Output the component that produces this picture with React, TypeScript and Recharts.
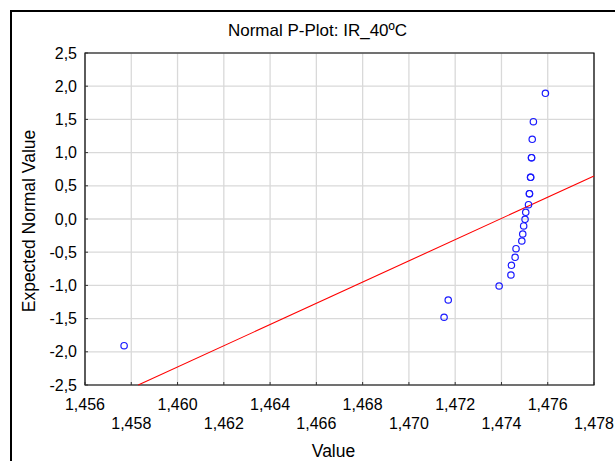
import { ScatterChart, Scatter, XAxis, YAxis, CartesianGrid, ReferenceArea } from 'recharts';

// observed values (x) and their expected normal scores (y)
const valueX = [
  1.45769, 1.47152, 1.4717, 1.4739, 1.47441, 1.47443, 1.47459, 1.47463, 1.47488, 1.47492, 1.47496, 1.47502,
  1.47505, 1.47517, 1.47521, 1.47521, 1.47526, 1.47526, 1.4753, 1.4753, 1.47533, 1.47538, 1.4759,
];
const expectedY = [
  -1.908, -1.48, -1.22, -1.009, -0.843, -0.697, -0.577, -0.447, -0.331, -0.226, -0.105, -0.005,
  0.101, 0.215, 0.381, 0.381, 0.628, 0.628, 0.923, 0.923, 1.2, 1.465, 1.893,
];

// fitted normal line end points
const fitX = [1.4583, 1.478];
const fitY = [-2.5, 0.648];

const xTicks = [1.456, 1.458, 1.46, 1.462, 1.464, 1.466, 1.468, 1.47, 1.472, 1.474, 1.476, 1.478];
const yTicks = [-2.5, -2, -1.5, -1, -0.5, 0, 0.5, 1, 1.5, 2, 2.5];

const points = valueX.map((v, i) => ({ x: v, y: expectedY[i] }));
const fitLine = fitX.map((v, i) => ({ x: v, y: fitY[i] }));

const FONT = '"Liberation Sans", Arial, sans-serif';
const comma = (n: number, d: number) => n.toFixed(d).replace('.', ',');

const XTick = (props: any) => {
  const { x, y, payload, index } = props;
  const row = index % 2;
  return (
    <g>
      <line x1={x} y1={y} x2={x} y2={y - 3} stroke="#333" />
      <text x={x} y={y + 25 + row * 19} textAnchor="middle" fontSize={16} fontFamily={FONT} fill="#000">
        {comma(payload.value, 3)}
      </text>
    </g>
  );
};

const YTick = (props: any) => {
  const { x, y, payload } = props;
  return (
    <g>
      <line x1={x} y1={y} x2={x + 3} y2={y} stroke="#333" />
      <text x={x - 8} y={y + 5.5} textAnchor="end" fontSize={16} fontFamily={FONT} fill="#000">
        {comma(payload.value, 1)}
      </text>
    </g>
  );
};

const Circle = (p: any) => (
  <circle cx={p.cx} cy={p.cy} r={3.2} fill="none" stroke="#1a1aff" strokeWidth={1.2} />
);

const App = () => (
  <div style={{ position: 'fixed', left: 0, top: 0, width: 615, height: 461, overflow: 'hidden', background: '#fff' }}>
    <div
      style={{
        position: 'absolute', left: 10, top: 10, width: 700, height: 600,
        borderTop: '2px solid #000', borderLeft: '2px solid #000',
      }}
    />
    <div
      style={{
        position: 'absolute', left: 0, top: 21, width: 635, textAlign: 'center',
        fontFamily: FONT, fontSize: 17, color: '#000',
      }}
    >
      Normal P-Plot: IR_40ºC
    </div>
    <div style={{ position: 'absolute', left: 0, top: 0 }}>
      <ScatterChart width={615} height={461} margin={{ top: 53, right: 21, bottom: 0, left: 0 }}>
        <CartesianGrid stroke="#d9d9d9" strokeWidth={1.3} />
        <XAxis
          type="number"
          dataKey="x"
          domain={[1.456, 1.478]}
          ticks={xTicks}
          interval={0}
          height={76}
          tickSize={0}
          tickMargin={0}
          axisLine={false}
          tick={<XTick />}
          label={{
            content: ({ viewBox }: any) => (
              <text x={viewBox.x + viewBox.width / 2 - 6} y={viewBox.y + 72} textAnchor="middle" fontSize={17.5} fontFamily={FONT} fill="#000">
                Value
              </text>
            ),
          }}
        />
        <YAxis
          type="number"
          dataKey="y"
          domain={[-2.5, 2.5]}
          ticks={yTicks}
          interval={0}
          width={85}
          tickSize={0}
          tickMargin={0}
          axisLine={false}
          tick={<YTick />}
          label={{
            content: ({ viewBox }: any) => {
              const cx = 29;
              const cy = viewBox.y + viewBox.height / 2 + 2;
              return (
                <text x={cx} y={cy} transform={`rotate(-90 ${cx} ${cy})`} textAnchor="middle" dominantBaseline="central" fontSize={17.5} fontFamily={FONT} fill="#000">
                  Expected Normal Value
                </text>
              );
            },
          }}
        />
        <ReferenceArea x1={1.456} x2={1.478} y1={-2.5} y2={2.5} fill="none" stroke="#000" strokeWidth={1.2} />
        <Scatter data={fitLine} line={{ stroke: '#ff0000', strokeWidth: 1.1 }} shape={() => <g />} isAnimationActive={false} />
        <Scatter data={points} shape={<Circle />} isAnimationActive={false} />
      </ScatterChart>
    </div>
  </div>
);

export default App;
